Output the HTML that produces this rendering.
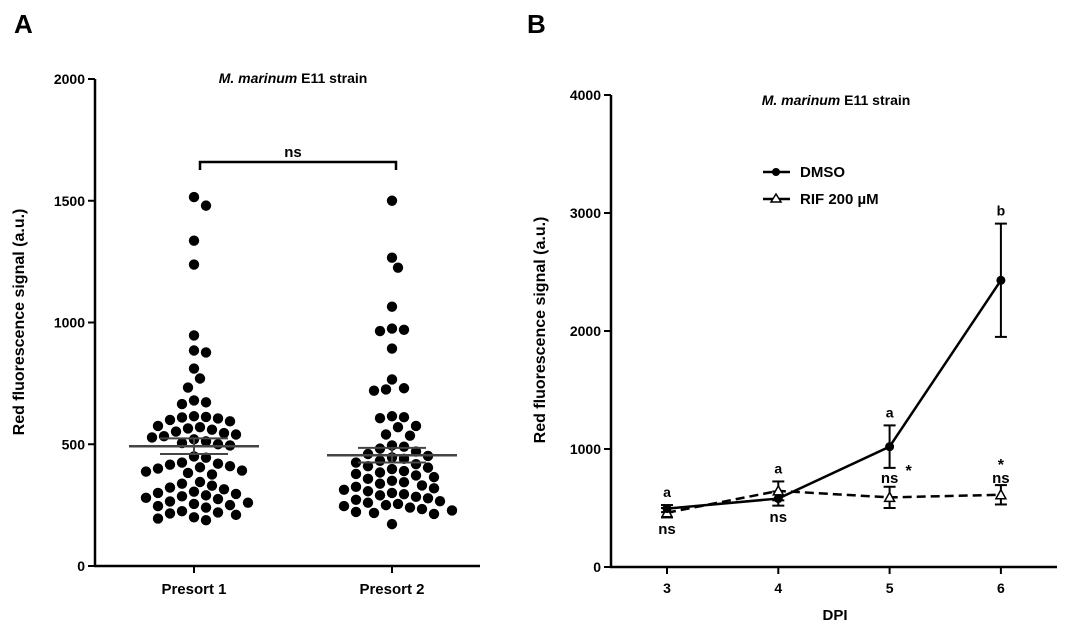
<!DOCTYPE html>
<html><head><meta charset="utf-8"><style>
body{margin:0;background:#fff;}
svg{display:block;font-family:"Liberation Sans",Arial,sans-serif;font-weight:bold;}
</style></head><body>
<svg width="1073" height="630" viewBox="0 0 1073 630">
<g id="A"></g>
<g id="B"></g>
</svg>
<script>
const NS="http://www.w3.org/2000/svg";
// Panel A data
const groupsA=["Presort 1","Presort 2"];
const presort1=[1515,1480,1336,1238,947,885,877,811,770,733,680,672,665,615,612,610,606,600,594,575,570,565,560,552,546,540,533,528,520,512,505,500,495,450,445,425,420,416,410,405,400,392,388,382,376,345,338,330,322,315,305,300,296,290,286,280,275,265,260,255,250,246,240,225,220,216,210,200,195,188];
const presort2=[1500,1266,1225,1065,975,970,965,893,766,730,725,720,615,611,607,575,570,540,535,495,490,482,470,460,452,446,440,432,425,418,410,404,398,390,384,378,372,365,358,350,344,338,331,325,319,313,307,300,295,290,284,278,272,266,260,255,250,246,240,234,228,222,218,214,172];
const meansA=[492,455];
const semA=[32,30];
const yTicksA=[0,500,1000,1500,2000];
// Panel B data
const dpi=[3,4,5,6];
const dmso=[495,580,1020,2430];
const dmsoErr=[30,60,180,480];
const rif=[460,645,590,612];
const rifErr=[40,80,90,82];
const yTicksB=[0,1000,2000,3000,4000];
const dmsoLabels=["a","a","a","b"];

function el(tag,attrs,parent,text){const e=document.createElementNS(NS,tag);for(const k in attrs)e.setAttribute(k,attrs[k]);if(text!==undefined)e.textContent=text;parent.appendChild(e);return e;}

// ---- Panel A
const A=document.getElementById('A');
const yA=v=>566-(v/2000)*487;
const xA=i=>194+i*198;
let t=el('text',{x:14,y:33,'font-size':26},A,'A');

t=el('text',{x:293,y:83,'font-size':14,'text-anchor':'middle'},A);

t.innerHTML='<tspan font-style="italic">M. marinum</tspan> E11 strain';
t=el('line',{x1:95,y1:79,x2:95,y2:567,stroke:'#000','stroke-width':2.5},A);

t=el('line',{x1:94,y1:566,x2:480,y2:566,stroke:'#000','stroke-width':2.5},A);

yTicksA.forEach(v=>{
  el('line',{x1:88,y1:yA(v),x2:95,y2:yA(v),stroke:'#000','stroke-width':2},A);
  const l=el('text',{x:85,y:yA(v)+5,'font-size':14,'text-anchor':'end'},A,String(v));
  
});
groupsA.forEach((g,i)=>{
  el('line',{x1:xA(i),y1:566,x2:xA(i),y2:573,stroke:'#000','stroke-width':2},A);
  const l=el('text',{x:xA(i),y:594,'font-size':15,'text-anchor':'middle'},A,g);
  
});
t=el('text',{x:0,y:0,'font-size':16,'text-anchor':'middle',transform:'translate(24,322) rotate(-90)'},A,'Red fluorescence signal (a.u.)');

t=el('path',{d:'M200,170 V162 H396 V170',fill:'none',stroke:'#000','stroke-width':2.5},A);

t=el('text',{x:293,y:157,'font-size':15,'text-anchor':'middle'},A,'ns');

function swarm(vals,cx,name){
  const r=5.2,placed=[];
  [...vals].sort((a,b)=>b-a).forEach(v=>{
    const y=yA(v);let off=0;
    for(let k=0;k<40;k++){
      const cand=k===0?0:(k%2?1:-1)*Math.ceil(k/2)*6;
      if(placed.every(p=>Math.hypot(p[0]-cand,p[1]-y)>=2*r+0.8)){off=cand;break;}
    }
    placed.push([off,y]);
    const c=el('circle',{cx:cx+off,cy:y,r:r,fill:'#000'},A);
    
    
  });
}
swarm(presort1,xA(0),'presort-1-point');
swarm(presort2,xA(1),'presort-2-point');
meansA.forEach((m,i)=>{
  const c=xA(i);
  const ml=el('line',{x1:c-65,y1:yA(m),x2:c+65,y2:yA(m),stroke:'#444','stroke-width':2.5},A);
  
  el('line',{x1:c,y1:yA(m-semA[i]),x2:c,y2:yA(m+semA[i]),stroke:'#444','stroke-width':2},A);
  el('line',{x1:c-34,y1:yA(m+semA[i]),x2:c+34,y2:yA(m+semA[i]),stroke:'#444','stroke-width':2},A);
  el('line',{x1:c-34,y1:yA(m-semA[i]),x2:c+34,y2:yA(m-semA[i]),stroke:'#444','stroke-width':2},A);
});

// ---- Panel B
const B=document.getElementById('B');
const yB=v=>567-(v/4000)*472;
const xB=d=>667+(d-3)*111.3;
t=el('text',{x:527,y:33,'font-size':26},B,'B');

t=el('text',{x:836,y:105,'font-size':14,'text-anchor':'middle'},B);

t.innerHTML='<tspan font-style="italic">M. marinum</tspan> E11 strain';
t=el('line',{x1:611,y1:95,x2:611,y2:568,stroke:'#000','stroke-width':2.5},B);

t=el('line',{x1:610,y1:567,x2:1057,y2:567,stroke:'#000','stroke-width':2.5},B);

yTicksB.forEach(v=>{
  el('line',{x1:604,y1:yB(v),x2:611,y2:yB(v),stroke:'#000','stroke-width':2},B);
  const l=el('text',{x:601,y:yB(v)+5,'font-size':14,'text-anchor':'end'},B,String(v));
  
});
dpi.forEach(d=>{
  el('line',{x1:xB(d),y1:567,x2:xB(d),y2:574,stroke:'#000','stroke-width':2},B);
  const l=el('text',{x:xB(d),y:593,'font-size':14,'text-anchor':'middle'},B,String(d));
  
});
t=el('text',{x:835,y:620,'font-size':15,'text-anchor':'middle'},B,'DPI');

t=el('text',{x:0,y:0,'font-size':16,'text-anchor':'middle',transform:'translate(545,330) rotate(-90)'},B,'Red fluorescence signal (a.u.)');

function errbar(x,v,e){
  el('line',{x1:x,y1:yB(v-e),x2:x,y2:yB(v+e),stroke:'#000','stroke-width':2},B);
  el('line',{x1:x-6,y1:yB(v+e),x2:x+6,y2:yB(v+e),stroke:'#000','stroke-width':2},B);
  el('line',{x1:x-6,y1:yB(v-e),x2:x+6,y2:yB(v-e),stroke:'#000','stroke-width':2},B);
}
dpi.forEach((d,i)=>{errbar(xB(d),rif[i],rifErr[i]);errbar(xB(d),dmso[i],dmsoErr[i]);});
t=el('polyline',{points:dpi.map((d,i)=>xB(d)+','+yB(rif[i])).join(' '),fill:'none',stroke:'#000','stroke-width':2.5,'stroke-dasharray':'9,5'},B);

t=el('polyline',{points:dpi.map((d,i)=>xB(d)+','+yB(dmso[i])).join(' '),fill:'none',stroke:'#000','stroke-width':2.5},B);

dpi.forEach((d,i)=>{
  const x=xB(d),y=yB(rif[i]);
  const p=el('polygon',{points:`${x},${y-5} ${x-5},${y+4} ${x+5},${y+4}`,fill:'#fff',stroke:'#000','stroke-width':1.5},B);
  
  const c=el('circle',{cx:x,cy:yB(dmso[i]),r:4.5,fill:'#000'},B);
  
  const top=Math.max(dmso[i]+dmsoErr[i],rif[i]+rifErr[i]);
  const a=el('text',{x:x,y:yB(top)-8,'font-size':14,'text-anchor':'middle'},B,dmsoLabels[i]);
  
});
function ann(x,y,s,fs){const a=el('text',{x:x,y:y,'font-size':fs||15,'text-anchor':'middle'},B,s);}
ann(xB(3),534,'ns');ann(xB(4),522,'ns');
ann(xB(5),483,'ns');ann(xB(5)+19,476,'*',16);
ann(xB(6),483,'ns');ann(xB(6),470,'*',16);
t=el('g',{},B);
el('line',{x1:763,y1:172,x2:790,y2:172,stroke:'#000','stroke-width':2.5},t);
el('circle',{cx:776,cy:172,r:4,fill:'#000'},t);
el('text',{x:800,y:177,'font-size':15},t,'DMSO');
el('line',{x1:763,y1:199,x2:790,y2:199,stroke:'#000','stroke-width':2.5},t);
el('polygon',{points:'776,194 771,202 781,202',fill:'#fff',stroke:'#000','stroke-width':1.5},t);
el('text',{x:800,y:204,'font-size':15},t,'RIF 200 µM');
</script>
</body></html>
